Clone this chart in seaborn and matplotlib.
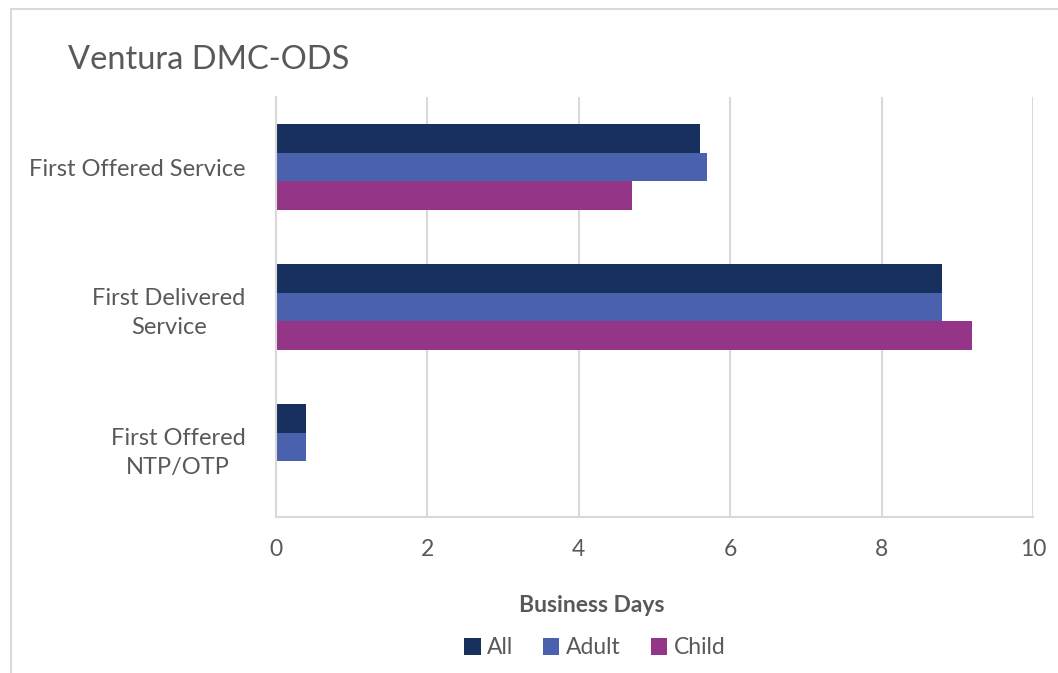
import matplotlib
matplotlib.use("Agg")
import matplotlib.pyplot as plt
import seaborn as sns
import pandas as pd
from matplotlib.patches import Rectangle

# Timeliness measures (business days)
measures = ["First Offered Service", "First Delivered\nService", "First Offered\nNTP/OTP"]
groups = ["All", "Adult", "Child"]
all_days = [5.6, 8.8, 0.4]
adult_days = [5.7, 8.8, 0.4]
child_days = [4.7, 9.2, 0.0]
x_ticks = [0, 2, 4, 6, 8, 10]
colors = ["#17305e", "#4a62ad", "#943588"]

rows = []
for grp, vals in zip(groups, [all_days, adult_days, child_days]):
    for m, v in zip(measures, vals):
        rows.append({"Measure": m, "Group": grp, "Days": v})
df = pd.DataFrame(rows)

sns.set_theme(style="white")
plt.rcParams["font.family"] = ["Lato", "DejaVu Sans"]

fig = plt.figure(figsize=(10.58, 6.73), dpi=100)
ax = fig.add_axes([276 / 1058, 1 - 517 / 673, (1033 - 276) / 1058, (517 - 97) / 673])

sns.barplot(data=df, y="Measure", x="Days", hue="Group", order=measures,
            hue_order=groups, palette=colors, orient="h", width=0.62,
            saturation=1, linewidth=0, ax=ax, legend=True)

ax.set_xlim(0, 10)
ax.set_xticks(x_ticks)
ax.set_ylim(2.5, -0.5)
ax.grid(axis="x", color="#d9d9d9", linewidth=1.5)
ax.set_axisbelow(True)
for s in ["top", "right"]:
    ax.spines[s].set_visible(False)
for s in ["left", "bottom"]:
    ax.spines[s].set_color("#d9d9d9")
    ax.spines[s].set_linewidth(1.5)
ax.tick_params(axis="both", length=0, labelcolor="#595959")
ax.tick_params(axis="x", labelsize=16.5, pad=16)
ax.tick_params(axis="y", labelsize=17, pad=22)
for lab in ax.get_yticklabels():
    lab.set_multialignment("center")
    lab.set_linespacing(1.45)
ax.set_ylabel("")
ax.set_xlabel("")

fig.text(592 / 1058, 1 - 605 / 673, "Business Days", fontsize=16.5, fontweight="bold",
         color="#595959", ha="center", va="center")

ax.legend(loc="center", bbox_to_anchor=(595 / 1058, 1 - 648 / 673),
          bbox_transform=fig.transFigure, ncol=3, frameon=False, fontsize=16.5,
          handlelength=0.7, handleheight=0.7, handletextpad=0.3, columnspacing=1.3,
          labelcolor="#595959")

fig.text(68 / 1058, 1 - 60 / 673, "Ventura DMC-ODS", fontsize=23.5, color="#595959",
         va="center", ha="left")

# chart area frame
fig.patches.append(Rectangle((11 / 1058, -0.1), 1.2, 1 - 9 / 673 + 0.1,
                             transform=fig.transFigure, fill=False,
                             edgecolor="#d9d9d9", linewidth=1.5))

fig.savefig("out.png", dpi=100)
